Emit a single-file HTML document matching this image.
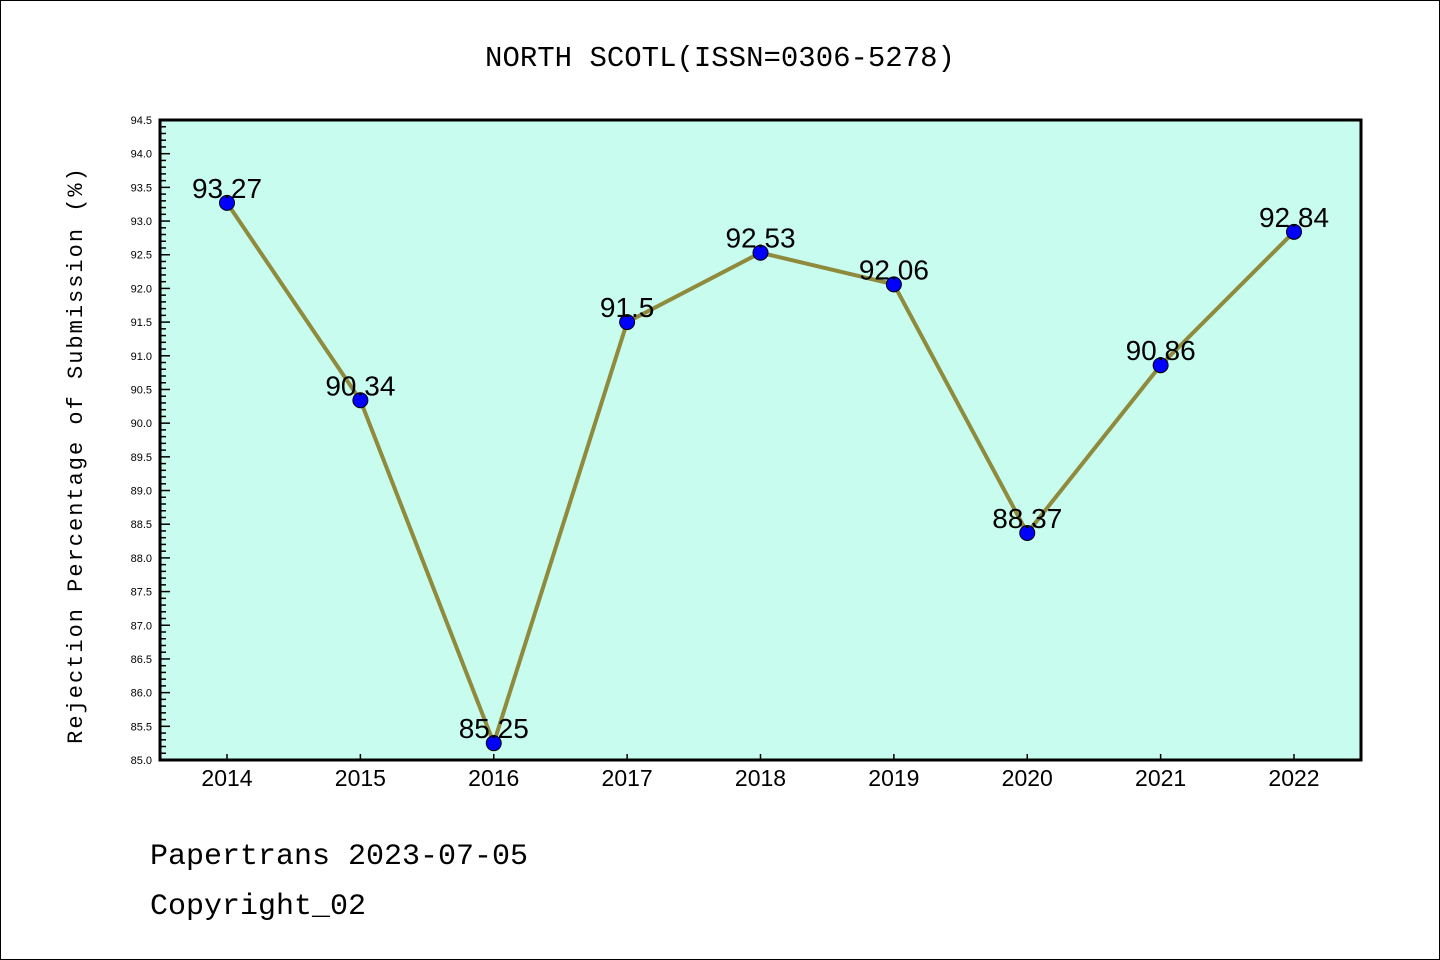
<!DOCTYPE html>
<html><head><meta charset="utf-8"><style>
html,body{margin:0;padding:0;background:#fff}
svg{display:block;font-family:"Liberation Sans","DejaVu Sans",sans-serif}
</style></head><body>
<svg id="chart" width="1440" height="960">
<rect x="0.5" y="0.5" width="1439" height="959" fill="#fff" stroke="#000"/>
<text x="720" y="66" text-anchor="middle" font-size="29" font-family="'Liberation Mono',monospace">NORTH SCOTL(ISSN=0306-5278)</text>
<rect x="160" y="120" width="1201" height="640" fill="#c7fcee"/>
<g id="yticks"></g><g id="xticks"></g>
<g id="series"></g>
<rect x="160" y="120" width="1201" height="640" fill="none" stroke="#000" stroke-width="3"/>
<text transform="translate(82,455) rotate(-90)" text-anchor="middle" font-size="22" font-family="'Liberation Mono',monospace" letter-spacing="2">Rejection Percentage of Submission (%)</text>
<text x="150" y="864" font-size="30" font-family="'Liberation Mono',monospace">Papertrans 2023-07-05</text>
<text x="150" y="914" font-size="30" font-family="'Liberation Mono',monospace">Copyright_02</text>
</svg>
<script>
const categories=["2014","2015","2016","2017","2018","2019","2020","2021","2022"];
const values=[93.27,90.34,85.25,91.5,92.53,92.06,88.37,90.86,92.84];
const valueLabels=["93.27","90.34","85.25","91.5","92.53","92.06","88.37","90.86","92.84"];
const yMin=85.0,yMax=94.5;
const NS="http://www.w3.org/2000/svg";
function X(i){return 227+i*(1294-227)/(categories.length-1);}
function Y(v){return 760-(v-yMin)/(yMax-yMin)*640;}
function mk(t,a,p){const e=document.createElementNS(NS,t);for(const k in a)e.setAttribute(k,a[k]);p.appendChild(e);return e;}
const yt=document.getElementById('yticks');
for(let k=0;k<=95;k++){const v=yMin+k*0.1;const y=Y(v);const major=k%5===0;
const l=mk('line',{x1:160,x2:160+(major?10:6),y1:y,y2:y,stroke:'#000','stroke-width':1.5},yt);

if(major){const t=mk('text',{x:152,y:y+4,'text-anchor':'end','font-size':11},yt);t.textContent=v.toFixed(1);
}}
const xt=document.getElementById('xticks');
categories.forEach((c,i)=>{const x=X(i);
const l=mk('line',{x1:x,x2:x,y1:760,y2:754,stroke:'#000','stroke-width':1.5},xt);

const t=mk('text',{x:x,y:786,'text-anchor':'middle','font-size':23},xt);t.textContent=c;
});
const s=document.getElementById('series');
const pl=mk('polyline',{points:values.map((v,i)=>X(i)+','+Y(v)).join(' '),fill:'none',stroke:'#8f8a3c','stroke-width':4},s);

values.forEach((v,i)=>{
const c=mk('circle',{cx:X(i),cy:Y(v),r:7.5,fill:'#0000ff',stroke:'#000','stroke-width':1},s);

const t=mk('text',{x:X(i),y:Y(v)-5,'text-anchor':'middle','font-size':28},s);t.textContent=valueLabels[i];
});
</script>
</body></html>
